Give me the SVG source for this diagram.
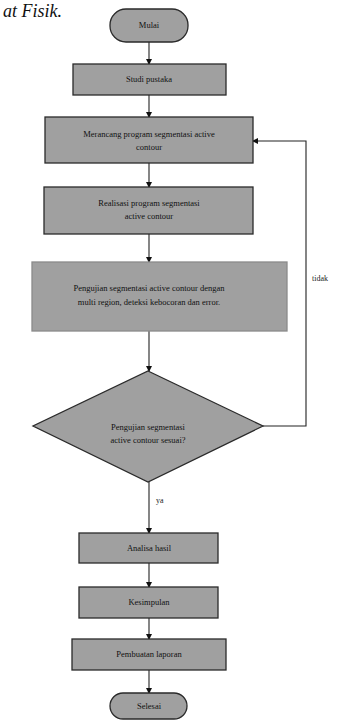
<svg xmlns="http://www.w3.org/2000/svg" width="337" height="722" viewBox="0 0 337 722">
<defs>
<marker id="ah" markerWidth="6" markerHeight="6" refX="5" refY="3" orient="auto" markerUnits="userSpaceOnUse">
<path d="M0,0 L6,3 L0,6 Z" fill="#111"/>
</marker>
<style>
.n{fill:#a0a0a0;stroke:#2a2a2a;stroke-width:1.3}
.t{font-family:"Liberation Serif",serif;font-size:8.5px;fill:#111;text-anchor:middle}
.c{fill:none;stroke:#222;stroke-width:1.1}
.l{font-family:"Liberation Serif",serif;font-size:8px;fill:#222}
</style>
</defs>
<rect width="337" height="722" fill="#fff"/>
<text x="3" y="17" font-family="'Liberation Serif',serif" font-style="italic" font-size="18" fill="#111">at Fisik.</text>
<g id="connectors">
<line class="c" x1="149" y1="42" x2="149" y2="64" marker-end="url(#ah)"/>
<line class="c" x1="149" y1="95" x2="149" y2="117" marker-end="url(#ah)"/>
<line class="c" x1="149" y1="163" x2="149" y2="187" marker-end="url(#ah)"/>
<line class="c" x1="149" y1="234" x2="149" y2="262" marker-end="url(#ah)"/>
<line class="c" x1="149" y1="331" x2="149" y2="371" marker-end="url(#ah)"/>
<polyline class="c" points="263,426 306,426 306,141 253,141" marker-end="url(#ah)"/>
<line class="c" x1="149" y1="482" x2="149" y2="533" marker-end="url(#ah)"/>
<line class="c" x1="149" y1="563" x2="149" y2="587" marker-end="url(#ah)"/>
<line class="c" x1="149" y1="618" x2="149" y2="639" marker-end="url(#ah)"/>
<line class="c" x1="149" y1="670" x2="149" y2="693" marker-end="url(#ah)"/>
<text class="l" x="312" y="281">tidak</text>
<text class="l" x="156" y="503">ya</text>
</g>
<g id="mulai"><rect class="n" x="110" y="9" width="78" height="33" rx="16"/><text class="t" x="149" y="28">Mulai</text></g>
<g id="studi"><rect class="n" x="73" y="64" width="153" height="31"/><text class="t" x="149" y="82">Studi pustaka</text></g>
<g id="merancang"><rect class="n" x="45" y="117" width="208" height="46"/><text class="t" x="149" y="137">Merancang program segmentasi active</text><text class="t" x="149" y="150">contour</text></g>
<g id="realisasi"><rect class="n" x="44" y="187" width="209" height="47"/><text class="t" x="149" y="206">Realisasi program segmentasi</text><text class="t" x="149" y="219">active contour</text></g>
<g id="pengujian"><rect class="n" x="32" y="262" width="255" height="69" style="stroke:#8a8a8a"/><text class="t" x="149" y="291">Pengujian segmentasi active contour dengan</text><text class="t" x="149" y="305">multi region, deteksi kebocoran dan error.</text></g>
<g id="keputusan"><polygon class="n" points="148,371 263,426 148,482 33,426"/><text class="t" x="148" y="430">Pengujian segmentasi</text><text class="t" x="148" y="443">active contour sesuai?</text></g>
<g id="analisa"><rect class="n" x="79" y="533" width="139" height="30"/><text class="t" x="149" y="551">Analisa hasil</text></g>
<g id="kesimpulan"><rect class="n" x="79" y="587" width="139" height="31"/><text class="t" x="149" y="605">Kesimpulan</text></g>
<g id="laporan"><rect class="n" x="72" y="639" width="154" height="31"/><text class="t" x="149" y="657">Pembuatan laporan</text></g>
<g id="selesai"><rect class="n" x="110" y="693" width="77" height="26" rx="13"/><text class="t" x="149" y="709">Selesai</text></g>
</svg>
